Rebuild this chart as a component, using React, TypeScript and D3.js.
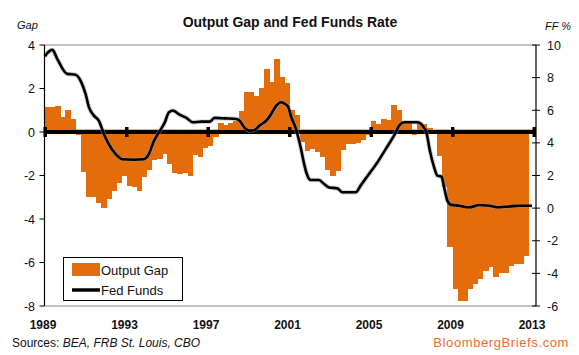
import React from "react";
import * as d3 from "d3";

const startYear = 1989;
// Output gap, quarterly from 1989Q1 (percent of potential GDP)
const gapValues = [
  1.15, 1.15, 1.2, 0.7,
  1.0, 0.62, -0.15, -1.85,
  -3.0, -3.0, -3.26, -3.5,
  -3.08, -2.7, -2.35, -2.0,
  -2.5, -2.55, -2.7, -2.08,
  -1.77, -1.3, -1.23, -1.0,
  -1.45, -1.9, -1.95, -1.9,
  -2.0, -1.05, -1.15, -0.74,
  -0.66, -0.25, 0.4, 0.34,
  0.4, 0.5, 0.95, 1.83,
  1.83, 1.65, 2.03, 2.88,
  2.3, 3.34, 2.52, 2.26,
  1.0, 0.77, -0.46, -0.88,
  -0.77, -0.92, -1.15, -1.77,
  -2.0, -1.8, -0.85, -0.57,
  -0.54, -0.5, -0.38, -0.12,
  0.49, 0.38, 0.58, 0.54,
  1.23, 1.0, 0.46, 0.4,
  -0.15, 0.4, 0.35, 0.2,
  0.1, -1.1, -2.55, -5.3,
  -7.23, -7.77, -7.77, -7.23,
  -7.0, -6.77, -6.38, -6.2,
  -6.65, -6.46, -6.5, -6.15,
  -6.08, -6.05, -5.7,
];
const quarterLabels = gapValues.map(
  (_, i) => `${startYear + Math.floor(i / 4)}Q${(i % 4) + 1}`
);

// Fed funds rate (%)
const ffDates = [
  1989.0, 1989.08, 1989.36, 1989.6, 1990.09, 1990.5, 1990.75, 1990.99, 1991.16, 1991.4,
  1991.64, 1991.89, 1992.13, 1992.46, 1992.79, 1993.36, 1993.85, 1994.09, 1994.34, 1994.67,
  1994.88, 1995.08, 1995.28, 1995.61, 1995.94, 1996.26, 1996.67, 1997.08, 1997.33, 1997.82,
  1998.39, 1998.55, 1998.8, 1999.04, 1999.29, 1999.53, 1999.86, 2000.1, 2000.35, 2000.59,
  2000.79, 2000.94, 2001.08, 2001.29, 2001.55, 2001.72, 2001.85, 2002.04, 2002.45, 2002.7,
  2002.94, 2003.35, 2003.6, 2004.25, 2004.49, 2004.9, 2005.31, 2005.72, 2006.13, 2006.45,
  2006.65, 2007.17, 2007.28, 2007.53, 2007.72, 2007.89, 2008.1, 2008.26, 2008.46, 2008.59,
  2008.75, 2008.92, 2009.33, 2009.82, 2010.31, 2010.8, 2011.29, 2011.78, 2012.27, 2012.9,
];
const ffValues = [
  9.3, 9.45, 9.7, 9.15, 8.23, 8.18, 7.8, 7.0, 6.18, 5.67,
  5.36, 4.55, 3.93, 3.32, 3.0, 2.97, 3.0, 3.3, 4.1, 4.8,
  5.26, 5.87, 5.98, 5.73, 5.53, 5.26, 5.3, 5.3, 5.53, 5.5,
  5.46, 5.36, 4.91, 4.75, 4.79, 5.06, 5.36, 5.77, 6.28, 6.49,
  6.38, 6.2, 5.6, 4.95, 3.72, 2.7, 2.09, 1.72, 1.72, 1.48,
  1.27, 1.21, 0.97, 0.97, 1.38, 2.09, 2.8, 3.62, 4.44, 5.16,
  5.26, 5.26, 5.26, 5.06, 4.64, 3.52, 2.5, 1.99, 1.93, 1.27,
  0.45, 0.21, 0.15, 0.05, 0.19, 0.15, 0.05, 0.1, 0.15, 0.15,
];

const xTickYears = [1989, 1993, 1997, 2001, 2005, 2009, 2013];
const gapTicks = [4, 2, 0, -2, -4, -6, -8];
const ffTicks = [10, 8, 6, 4, 2, 0, -2, -4, -6];

const W = 579;
const H = 355;
const left = 44.5;
const right = 536;
const top = 45;
const bottom = 306;
const ORANGE = "#E46C0A";
const FONT = "'Liberation Sans', Arial, sans-serif";

export default function App() {
  const x = d3.scaleLinear().domain([1989, 2013]).range([45, 534]);
  const yGap = d3.scaleLinear().domain([-8, 4]).range([bottom, top]);
  const yFF = d3.scaleLinear().domain([-6, 10]).range([bottom, top]);
  const y0 = yGap(0);

  const line = d3
    .line<number>()
    .x((_, i) => x(ffDates[i]))
    .y((d) => yFF(d))
    .curve(d3.curveMonotoneX);
  const ffPath = line(ffValues) || "";

  return (
    <svg
      width={W}
      height={H}
      style={{ position: "absolute", left: 0, top: 0, background: "#fff" }}
      fontFamily={FONT}
    >
      <rect x={0} y={0} width={W} height={H} fill="#fff" />
      {/* title */}
      <text x={290} y={27} textAnchor="middle" fontSize={14} fontWeight="bold" fill="#111">
        Output Gap and Fed Funds Rate
      </text>
      <text x={17} y={29} fontSize={11} fontStyle="italic" fill="#111">
        Gap
      </text>
      <text x={545} y={30} fontSize={11} fontStyle="italic" fill="#111">
        FF %
      </text>

      {/* top & bottom gray lines */}
      <line x1={left} x2={right} y1={top} y2={top} stroke="#888" strokeWidth={1.2} />
      <line x1={left} x2={right} y1={bottom} y2={bottom} stroke="#888" strokeWidth={1.2} />

      {/* bars */}
      <g shapeRendering="crispEdges">
        {gapValues.map((v, i) => {
          const t0 = startYear + i / 4;
          const x0 = x(t0);
          const x1 = x(t0 + 0.25);
          const yv = yGap(v);
          return (
            <rect
              key={quarterLabels[i]}
              x={x0}
              width={x1 - x0 + 0.4}
              y={Math.min(yv, y0)}
              height={Math.abs(yv - y0)}
              fill={ORANGE}
            />
          );
        })}
      </g>
      <line x1={x(1989) + 20} x2={x(2013)} y1={y0 - 2} y2={y0 - 2} stroke={ORANGE} strokeWidth={1} />

      {/* zero axis */}
      <line x1={left} x2={right - 2} y1={y0} y2={y0} stroke="#000" strokeWidth={4} />
      {xTickYears.map((yr) => (
        <rect key={yr} x={x(yr) - 1.5} y={y0 - 5} width={3.5} height={10} fill="#000" />
      ))}

      {/* fed funds line */}
      <path d={ffPath} fill="none" stroke="#999" strokeOpacity={0.45} strokeWidth={4.5} strokeLinejoin="round" />
      <path d={ffPath} fill="none" stroke="#000" strokeWidth={2.6} strokeLinejoin="round" />

      {/* left axis */}
      <line x1={left} x2={left} y1={top} y2={bottom} stroke="#000" strokeWidth={1.2} />
      {gapTicks.map((t) => (
        <g key={t}>
          <line x1={left - 5} x2={left} y1={yGap(t)} y2={yGap(t)} stroke="#000" strokeWidth={1} />
          <text x={35} y={yGap(t) + 4.5} textAnchor="end" fontSize={12.5} fill="#111">
            {t}
          </text>
        </g>
      ))}

      {/* right axis */}
      <line x1={right} x2={right} y1={top} y2={bottom} stroke="#000" strokeWidth={1.2} />
      {ffTicks.map((t) => (
        <g key={t}>
          <line x1={right - 4} x2={right + 4} y1={yFF(t)} y2={yFF(t)} stroke="#000" strokeWidth={1} />
          <text x={547} y={yFF(t) + 4.5} fontSize={12.5} fill="#111">
            {t}
          </text>
        </g>
      ))}

      {/* x labels */}
      {xTickYears.map((yr) => (
        <text key={yr} x={x(yr) - 2} y={329} textAnchor="middle" fontSize={12} fontWeight="bold" fill="#111">
          {yr}
        </text>
      ))}

      {/* legend */}
      <rect x={63.5} y={257.5} width={119} height={43} fill="#fff" stroke="#000" strokeWidth={1} />
      <rect x={72} y={263} width={28} height={13} fill={ORANGE} />
      <text x={101} y={274.5} fontSize={13} fill="#111">
        Output Gap
      </text>
      <line x1={72} x2={100} y1={290} y2={290} stroke="#000" strokeWidth={3.5} />
      <text x={101} y={295} fontSize={13} fill="#111">
        Fed Funds
      </text>

      {/* footer */}
      <text x={12} y={347} fontSize={12} fill="#111">
        Sources: <tspan fontStyle="italic">BEA, FRB St. Louis, CBO</tspan>
      </text>
      <text x={569} y={347} textAnchor="end" fontSize={13} fill="#EE6B2F" letterSpacing={0.6}>
        BloombergBriefs.com
      </text>
    </svg>
  );
}
